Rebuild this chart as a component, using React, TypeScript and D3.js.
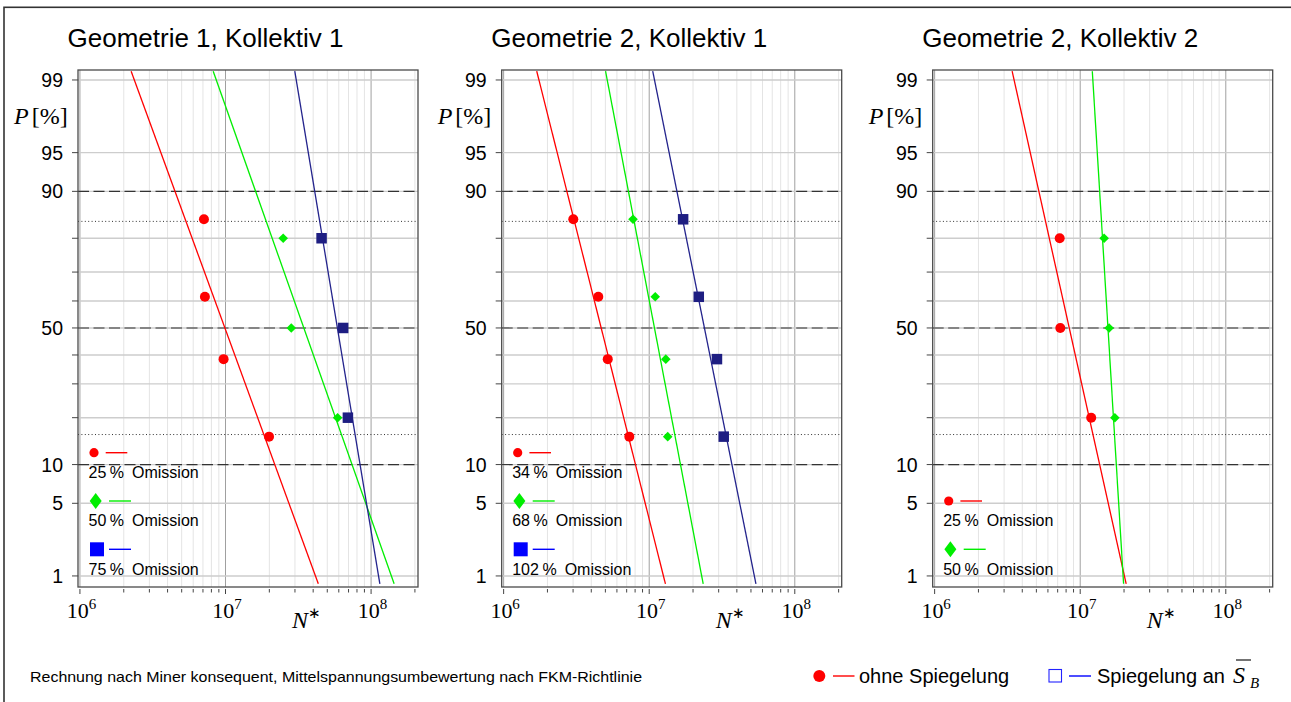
import React from 'react';
import * as d3 from 'd3';

// ---- data ----
const titles = ['Geometrie 1, Kollektiv 1', 'Geometrie 2, Kollektiv 1', 'Geometrie 2, Kollektiv 2'];
const omissions = [['25', '50', '75'], ['34', '68', '102'], ['25', '50']];

// plotting positions (Rossow) in %
const pRank4 = [84.6, 61.5, 38.5, 15.4];
const pRank3 = [80, 50, 20];

// cycles to failure N* per point
const g1Red = [7.11e6, 7.22e6, 9.7e6, 1.99e7];
const g1Green = [2.49e7, 2.83e7, 5.89e7];
const g1Navy = [4.57e7, 6.43e7, 6.93e7];

const g2Red = [3.01e6, 4.47e6, 5.19e6, 7.3e6];
const g2Green = [7.74e6, 1.1e7, 1.3e7, 1.34e7];
const g2Navy = [1.71e7, 2.19e7, 2.92e7, 3.25e7];

const g3Red = [7.23e6, 7.3e6, 1.19e7];
const g3Green = [1.46e7, 1.58e7, 1.73e7];

// fitted lines: [N at P = 90 %, N at P = 10 %]
const g1Lines = [[4.5e6, 2.18e7], [1.61e7, 7.4e7], [4.1e7, 8.4e7]];
const g2Lines = [[2.72e6, 8.05e6], [7.2e6, 1.64e7], [1.55e7, 3.7e7]];
const g3Lines = [[5.2e6, 1.36e7], [1.36e7, 1.77e7]];

const lineP = [0.82, 99.2];
const gridP = [1, 5, 10, 20, 30, 40, 50, 60, 70, 80, 90, 95, 99];
const labelP = [1, 5, 10, 50, 90, 95, 99];
const dashedP = [10, 50, 90];
const sigmaP = [15.87, 84.13];
const decades = [6, 7, 8];

const kinds = ['red', 'green', 'navy'];
const lineColor = { red: '#ff0000', green: '#00ee00', navy: '#23238c' };
const markColor = { red: '#ff0000', green: '#00ee00', navy: '#1e1e82' };
const legendColor = { red: '#ff0000', green: '#00ee00', navy: '#0000ff' };

const panels = [
  { left: 78, title: titles[0], points: [[g1Red, pRank4], [g1Green, pRank3], [g1Navy, pRank3]], lines: g1Lines, om: omissions[0], row0: 0 },
  { left: 501.7, title: titles[1], points: [[g2Red, pRank4], [g2Green, pRank4], [g2Navy, pRank4]], lines: g2Lines, om: omissions[1], row0: 0 },
  { left: 932.7, title: titles[2], points: [[g3Red, pRank3], [g3Green, pRank3]], lines: g3Lines, om: omissions[2], row0: 1 },
];

// inverse normal CDF (Acklam)
function probit(p: number) {
  const a = [-3.969683028665376e1, 2.209460984245205e2, -2.759285104469687e2, 1.38357751867269e2, -3.066479806614716e1, 2.506628277459239];
  const b = [-5.447609879822406e1, 1.615858368580409e2, -1.556989798598866e2, 6.680131188771972e1, -1.328068155288572e1];
  const c = [-7.784894002430293e-3, -3.223964580411365e-1, -2.400758277161838, -2.549732539343734, 4.374664141464968, 2.938163982698783];
  const d = [7.784695709041462e-3, 3.224671290700398e-1, 2.445134137142996, 3.754408661907416];
  const lo = 0.02425;
  if (p < lo) {
    const q = Math.sqrt(-2 * Math.log(p));
    return (((((c[0] * q + c[1]) * q + c[2]) * q + c[3]) * q + c[4]) * q + c[5]) / ((((d[0] * q + d[1]) * q + d[2]) * q + d[3]) * q + 1);
  }
  if (p > 1 - lo) return -probit(1 - p);
  const q = p - 0.5, r = q * q;
  return (((((a[0] * r + a[1]) * r + a[2]) * r + a[3]) * r + a[4]) * r + a[5]) * q /
    (((((b[0] * r + b[1]) * r + b[2]) * r + b[3]) * r + b[4]) * r + 1);
}

const W = 340, H = 517, TOP = 70;
const x = d3.scaleLog().domain([0.97e6, 2.1e8]).range([0, W]);
const zs = d3.scaleLinear().domain([-2.43, 2.42]).range([H, 0]);
const yP = (p: number) => zs(probit(p / 100));
const isDecade = (t: number) => Math.abs(Math.log10(t) - Math.round(Math.log10(t))) < 1e-9;

const sans = '"Liberation Sans", Arial, Helvetica, sans-serif';
const serif = '"Liberation Serif", "Times New Roman", serif';

function Marker({ kind, cx, cy, legend }: any) {
  const fill = legend ? legendColor[kind] : markColor[kind];
  if (kind === 'red') return <circle cx={cx} cy={cy} r={legend ? 4.6 : 5} fill={fill} />;
  if (kind === 'green') {
    const w = legend ? 6 : 4.8, h = legend ? 8 : 4.8;
    return <path d={`M${cx},${cy - h}L${cx + w},${cy}L${cx},${cy + h}L${cx - w},${cy}Z`} fill={fill} />;
  }
  const s = legend ? 14 : 10.5;
  return <rect x={cx - s / 2} y={cy - s / 2} width={s} height={s} fill={fill} />;
}

function Panel({ p }: any) {
  const xt = x.ticks();
  const fit = d3.line<number>()
    .x((d) => d[0])
    .y((d) => d[1]);
  const legendRows = [382.7, 431, 479.3];
  const legendText = [408.3, 456, 505];
  return (
    <g transform={`translate(${p.left},${TOP})`}>
      <text x={W / 2 - 42.5} y={-22.7} textAnchor="middle" fontFamily={sans} fontSize={26}>{p.title}</text>

      {/* grid */}
      {xt.map((t, i) => (
        <line key={'vx' + i} x1={x(t)} x2={x(t)} y1={0} y2={H}
          stroke={isDecade(t) ? '#a0a0a0' : '#e4e4e4'} strokeWidth={1} />
      ))}
      {gridP.map((v) => (
        <line key={'gy' + v} x1={0} x2={W} y1={yP(v)} y2={yP(v)} stroke="#cdcdcd" strokeWidth={1.4} />
      ))}
      {dashedP.map((v) => (
        <line key={'dy' + v} x1={0} x2={W} y1={yP(v)} y2={yP(v)} stroke="#333" strokeWidth={1.1} strokeDasharray="11,4.5" />
      ))}
      {sigmaP.map((v) => (
        <line key={'sy' + v} x1={0} x2={W} y1={yP(v)} y2={yP(v)} stroke="#333" strokeWidth={1} strokeDasharray="1,2.4" />
      ))}

      {/* fitted lines */}
      {p.lines.map((ln: number[], i: number) => {
        const z90 = probit(0.9), z10 = probit(0.1);
        const l90 = Math.log10(ln[0]), l10 = Math.log10(ln[1]);
        const pts = lineP.map((pp) => {
          const z = probit(pp / 100);
          const lg = l90 + ((z - z90) * (l10 - l90)) / (z10 - z90);
          return [x(Math.pow(10, lg)), zs(z)];
        });
        return <path key={'fl' + i} d={fit(pts as any) as string} fill="none" stroke={lineColor[kinds[i]]} strokeWidth={1.3} />;
      })}

      {/* points */}
      {p.points.map((s: any, i: number) =>
        s[0].map((n: number, j: number) => (
          <Marker key={'m' + i + '-' + j} kind={kinds[i]} cx={x(n)} cy={yP(s[1][j])} />
        )))}

      {/* frame */}
      <rect x={0} y={0} width={W} height={H} fill="none" stroke="#4a4a4a" strokeWidth={1.3} />

      {/* y axis */}
      {gridP.map((v) => (
        <line key={'ty' + v} x1={-6} x2={0} y1={yP(v)} y2={yP(v)} stroke="#444" strokeWidth={1} />
      ))}
      {labelP.map((v) => (
        <text key={'ly' + v} x={-15} y={yP(v)} dy="0.36em" textAnchor="end" fontFamily={sans} fontSize={19.5}>{v}</text>
      ))}
      <text x={-64} y={54} fontFamily={serif} fontSize={24}>
        <tspan fontStyle="italic">P</tspan>
        <tspan dx={3}>[%]</tspan>
      </text>

      {/* x axis */}
      {xt.map((t, i) => (
        <line key={'tx' + i} x1={x(t)} x2={x(t)} y1={H + 2} y2={H + (isDecade(t) ? 7 : 5.5)} stroke="#444" strokeWidth={1} />
      ))}
      {decades.map((e) => (
        <text key={'lx' + e} x={x(Math.pow(10, e)) + 1.5} y={H + 31.3} textAnchor="middle" fontFamily={serif} fontSize={22}>
          10<tspan dy={-9} fontSize={15}>{e}</tspan>
        </text>
      ))}
      <text x={214} y={H + 41} fontFamily={serif} fontSize={24}>
        <tspan fontStyle="italic">N</tspan>
        <tspan dy={-10} fontSize={15}>∗</tspan>
      </text>

      {/* legend */}
      {p.om.map((o: string, i: number) => {
        const r = p.row0 + i;
        const ly = legendRows[r];
        return (
          <g key={'lg' + i}>
            <Marker kind={kinds[i]} cx={kinds[i] === 'green' ? 17.7 : kinds[i] === 'navy' ? 19 : 16} cy={ly} legend />
            <line x1={kinds[i] === 'red' ? 27.7 : 31} x2={kinds[i] === 'red' ? 49.3 : 53} y1={ly} y2={ly}
              stroke={legendColor[kinds[i]]} strokeWidth={1.4} />
            <text x={10.5} y={legendText[r]} fontFamily={sans} fontSize={16}>
              <tspan>{o}</tspan><tspan dx={3.5}>%</tspan><tspan dx={8}>Omission</tspan>
            </text>
          </g>
        );
      })}
    </g>
  );
}

export default function App() {
  return (
    <svg width={1291} height={702} style={{ position: 'absolute', left: 0, top: 0, background: '#fff' }}>
      <rect x={0} y={0} width={1291} height={702} fill="#fff" />
      <rect x={4} y={7.3} width={1400} height={800} fill="none" stroke="#333" strokeWidth={1.6} />
      {panels.map((p, i) => <Panel key={i} p={p} />)}

      <text x={30} y={682} fontFamily={sans} fontSize={14.5} textLength={612} lengthAdjust="spacingAndGlyphs">
        Rechnung nach Miner konsequent, Mittelspannungsumbewertung nach FKM-Richtlinie
      </text>

      <circle cx={819.3} cy={676} r={6} fill="#ff0000" />
      <line x1={833} x2={854.5} y1={676} y2={676} stroke="#ff0000" strokeWidth={1.4} />
      <text x={859} y={683} fontFamily={sans} fontSize={20}>ohne Spiegelung</text>

      <rect x={1049} y={669.5} width={12.5} height={12.5} fill="none" stroke="#2222ff" strokeWidth={1.1} />
      <line x1={1069} x2={1091} y1={676} y2={676} stroke="#0000ff" strokeWidth={1.4} />
      <text x={1097} y={683} fontFamily={sans} fontSize={20}>Spiegelung an</text>
      <line x1={1236} x2={1251} y1={660} y2={660} stroke="#000" strokeWidth={1.1} />
      <text x={1233} y={683} fontFamily={serif} fontSize={24} fontStyle="italic">S</text>
      <text x={1250} y={688} fontFamily={serif} fontSize={15} fontStyle="italic">B</text>
    </svg>
  );
}
